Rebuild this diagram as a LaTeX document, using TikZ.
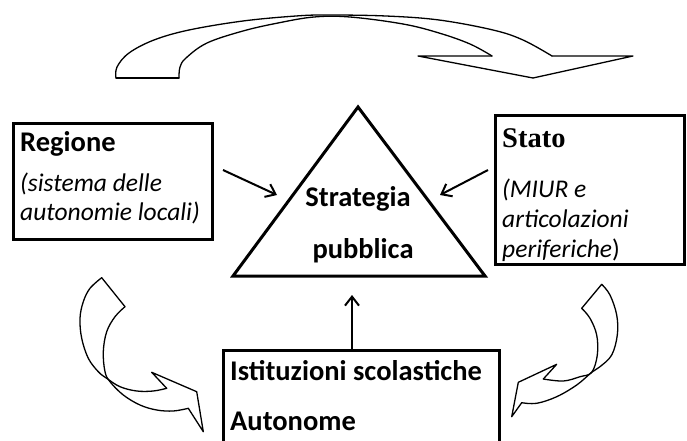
\documentclass[tikz,border=0pt]{standalone}
\usepackage{fontspec}
\setmainfont{Carlito}
\newfontfamily\serifbold{Liberation Serif}
\usetikzlibrary{arrows.meta}
\begin{document}
\begin{tikzpicture}[x=1pt,y=-1pt,
  box/.style={draw,line width=3pt,inner sep=0pt,anchor=north west},
  lbl/.style={inner sep=0pt,anchor=base west,font=\fontsize{28.5}{30}\selectfont\bfseries},
  ctr/.style={inner sep=0pt,anchor=base,font=\fontsize{28.5}{30}\selectfont\bfseries},
  ital/.style={inner sep=0pt,anchor=base west,font=\fontsize{25.5}{30}\selectfont\itshape},
  conn/.style={line width=2pt,-{Straight Barb[length=9pt,width=14pt]}},
  curvy/.style={line width=1.3pt,line join=round,line cap=round},
]
\useasboundingbox (0,0) rectangle (687,441);
\clip (0,0) rectangle (687,441);

% boxes
\node[box,minimum width=199pt,minimum height=116pt] (regbox) at (12,122) {};
\node[box,minimum width=189pt,minimum height=149pt] (statobox) at (494,114) {};
\node[box,minimum width=276pt,minimum height=120pt] (isbox) at (222,349) {};

% triangle
\coordinate (tA) at (358,107);
\coordinate (tL) at (233,276);
\coordinate (tR) at (485,276);
\draw[line width=3pt,line join=miter] (tA) -- (tL) -- (tR) -- cycle;

% texts
\node[lbl] (reg) at (20,151) {Regione};
\node[ital] (reg2) at (20,191) {(sistema delle};
\node[ital] (reg3) at (20,220) {autonomie locali)};
\node[inner sep=0pt,anchor=base west,font=\fontsize{28.5}{30}\selectfont\serifbold\bfseries] (stato) at (502,147) {Stato};
\node[ital] (st2) at (502,197) {(MIUR e};
\node[ital] (st3) at (502,227) {articolazioni};
\node[ital] (st4) at (502,257) {periferiche\upshape)};
\node[ctr] (strat) at (358,206) {Strategia};
\node[ctr] (pubb) at (363,258) {pubblica};
\node[lbl] (ist) at (230,380) {Istituzioni scolastiche};
\node[lbl] (aut) at (230,430) {Autonome};

% straight arrows
\coordinate (r0) at (223,170); \coordinate (r1) at (277,195);
\coordinate (s0) at (488,170); \coordinate (s1) at (440,195);
\coordinate (u0) at (352,349); \coordinate (u1) at (352,295);
\draw[conn] (r0) -- (r1);
\draw[conn] (s0) -- (s1);
\draw[conn] (u0) -- (u1);

% top curved arrow
\draw[curvy] plot[smooth,tension=0.6] coordinates {(116,78) (117,67) (129,53) (154,40) (189,30) (243,21) (296,16) (328,15) (386,16) (439,20) (493,30) (523,40) (552,56)};
\draw[curvy] plot[smooth,tension=0.6] coordinates {(179,78) (180,67) (186,58) (207,43) (243,31) (278,23) (314,17) (350,17) (403,24) (439,33) (470,44) (492,56)};
\draw[curvy] (552,56) -- (633,56) -- (533,78) -- (418,56) -- (492,56);
\draw[curvy] (116,78) -- (179,78);

% bottom-left curved arrow
\draw[curvy] plot[smooth,tension=0.6] coordinates {(101.7,277.7) (90,288.3) (83.3,301.7) (80,318.3) (81.7,338.3) (88.3,358.3) (98.3,371.7) (106.7,378.3) (120,386.7) (136.7,391) (153.3,391) (166.7,388.3)};
\draw[curvy] plot[smooth,tension=0.6] coordinates {(125,306.7) (115,316.7) (106.7,331.7) (103.3,351.7) (105,371.7) (110,381.7) (123.3,395) (140,405) (156.7,410) (173.3,411) (188.3,408.3)};
\draw[curvy] (166.7,388.3) -- (151.7,372.3) -- (196.7,391.7) -- (203.3,431.7) -- (188.3,408.3);
\draw[curvy] (101.7,277.7) -- (125,306.7);

% bottom-right curved arrow
\draw[curvy] plot[smooth,tension=0.6] coordinates {(601.7,284.3) (610,295) (616.7,315) (617.3,335) (611.7,355) (600,366.7) (591.7,372.3) (576.7,385) (556.7,396.7) (536.7,403.3) (521.7,402.7)};
\draw[curvy] plot[smooth,tension=0.6] coordinates {(581.7,308.3) (590,318.3) (596.7,335) (597.3,355) (591.7,372.3) (580,376.7) (563.3,381) (543.3,379)};
\draw[curvy] (543.3,379) -- (556.7,364.3) -- (518.3,382.3) -- (511.7,416.7) -- (521.7,402.7);
\draw[curvy] (601.7,284.3) -- (581.7,308.3);
\end{tikzpicture}
\end{document}
